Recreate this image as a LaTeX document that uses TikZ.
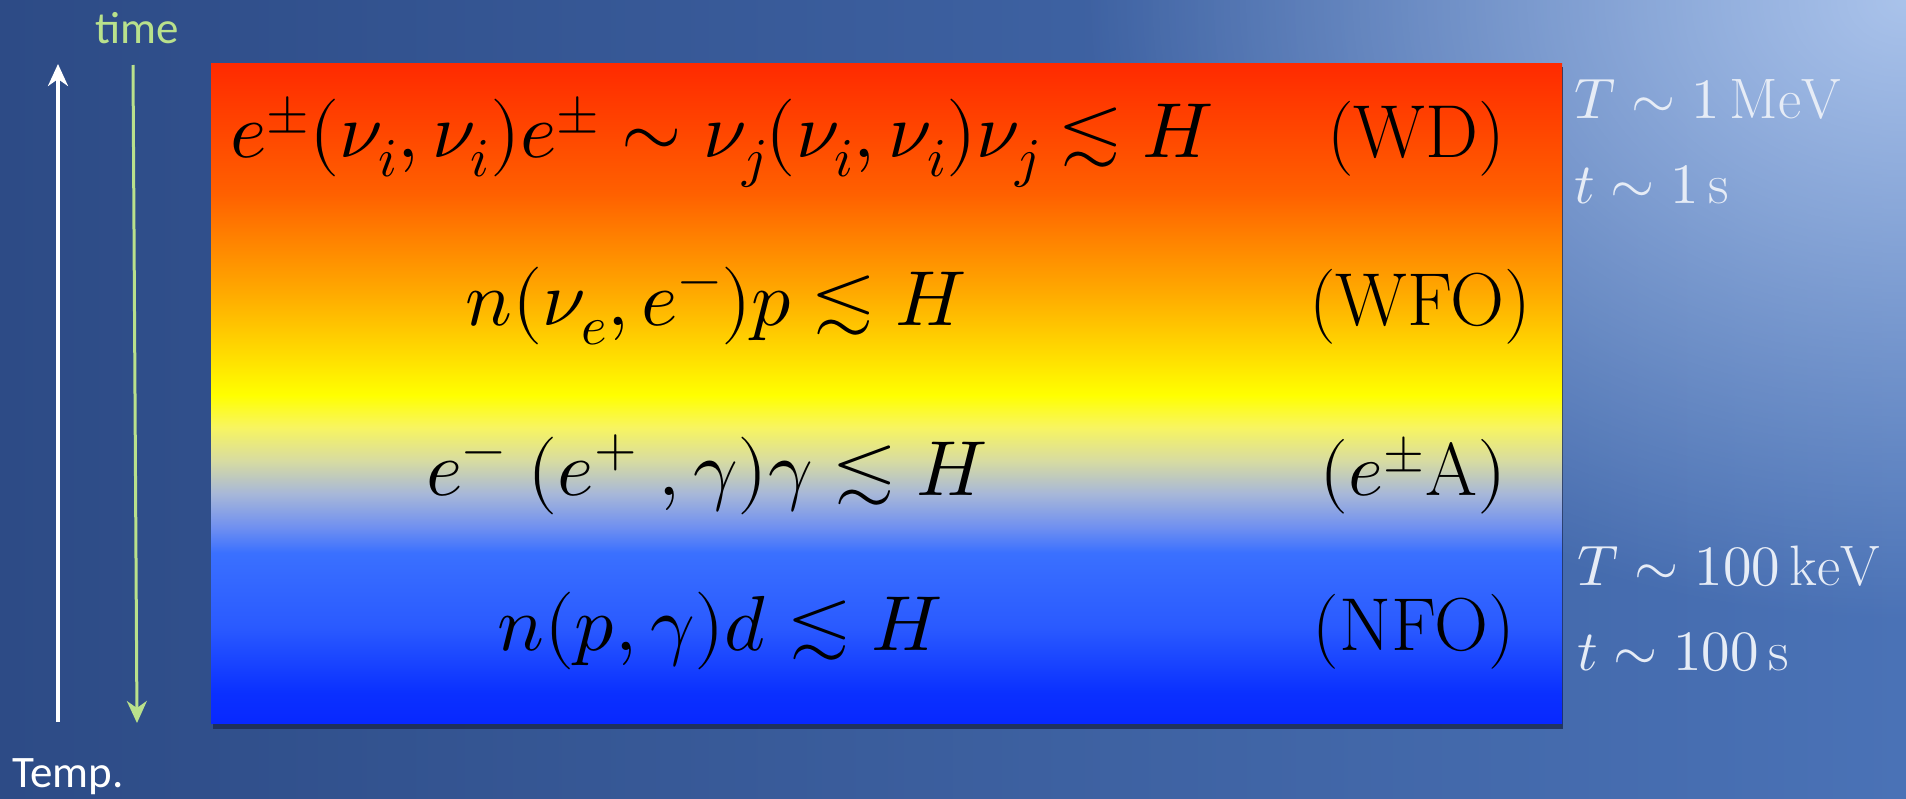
\documentclass[tikz,border=0pt]{standalone}
\usepackage{fontspec}
\usepackage{unicode-math}
\setmathfont{Latin Modern Math}
\newfontfamily\carlito{Carlito}
\usetikzlibrary{arrows.meta,fadings}
\tikzfading[name=glowfade, inner color=transparent!0, outer color=transparent!100]
\definecolor{bgL}{RGB}{45,75,134}
\definecolor{bgR}{RGB}{74,114,182}
\definecolor{glow}{RGB}{170,195,235}
\definecolor{tgreen}{RGB}{185,225,140}
\definecolor{lab}{RGB}{230,236,246}
\definecolor{shadowc}{RGB}{28,44,84}
\definecolor{g00}{RGB}{255,42,0}
\definecolor{g01}{RGB}{255,96,0}
\definecolor{g02}{RGB}{255,170,0}
\definecolor{g03}{RGB}{255,225,0}
\definecolor{g04}{RGB}{255,255,0}
\definecolor{g05}{RGB}{248,245,96}
\definecolor{g06}{RGB}{216,220,160}
\definecolor{g07}{RGB}{168,184,216}
\definecolor{g08}{RGB}{112,144,240}
\definecolor{g09}{RGB}{58,112,255}
\definecolor{g10}{RGB}{42,90,255}
\definecolor{g11}{RGB}{10,48,255}
\definecolor{g12}{RGB}{8,40,255}
\pgfdeclareverticalshading{boxgrad}{100bp}{%
color(0bp)=(g12); color(25bp)=(g12); color(27.27bp)=(g11); color(32.27bp)=(g10);
color(37.88bp)=(g09); color(39.85bp)=(g08); color(42.42bp)=(g07); color(44.92bp)=(g06);
color(47.42bp)=(g05); color(49.85bp)=(g04); color(52.5bp)=(g03); color(57.58bp)=(g02);
color(65.15bp)=(g01); color(75bp)=(g00); color(100bp)=(g00)}
\tikzset{
  formula/.style={anchor=base, inner sep=0pt, text=black, font=\fontsize{78}{84}\selectfont},
  tag/.style={anchor=base, inner sep=0pt, text=black, font=\fontsize{75}{80}\selectfont},
  rlab/.style={anchor=base west, inner sep=0pt, text=lab, font=\fontsize{57}{62}\selectfont},
  side/.style={inner sep=0pt, font=\carlito\fontsize{45}{50}\selectfont},
  warrow/.style={draw=white, line width=3.5pt, -{Stealth[length=22pt,width=20pt,inset=7pt]}},
  garrow/.style={draw=tgreen, line width=3pt, -{Stealth[length=22pt,width=20pt,inset=7pt]}},
}
\begin{document}
\begin{tikzpicture}[x=1pt,y=-1pt]
\useasboundingbox (0,0) rectangle (1906,798);
\shade[left color=bgL,right color=bgR] (0,0) rectangle (1906,798);
\begin{scope}
  \clip (0,0) rectangle (1906,798);
  \fill[glow,path fading=glowfade] (1906,0) ellipse [x radius=820pt, y radius=620pt];
\end{scope}
% box
\fill[shadowc,opacity=0.85] (213,67) rectangle (1563,729);
\shade[shading=boxgrad] (211,63) rectangle (1562,723);
% arrows
\coordinate (wb) at (58,722);
\coordinate (wt) at (58,64);
\coordinate (gt) at (133,65);
\coordinate (gb) at (137,723);
\draw[warrow] (wb) -- (wt);
\draw[garrow] (gt) -- (gb);
\node[side, text=tgreen, anchor=base] (time) at (137,43) {time};
\node[side, text=white, anchor=base west] (temp) at (12,787) {Temp.};
% formulas
\node[formula] (r1) at (722,157) {$e^{\pm}(\nu_i,\nu_i)e^{\pm}\sim\nu_j(\nu_i,\nu_i)\nu_j\lesssim H$};
\node[formula] (r2) at (716,325) {$n(\nu_e,e^{-})p\lesssim H$};
\node[formula] (r3) at (707,495) {$e^{-}\;(e^{+}\;,\gamma)\gamma\lesssim H$};
\node[formula] (r4) at (720,650) {$n(p,\gamma)d\lesssim H$};
\node[tag] (t1) at (1416,157) {(WD)};
\node[tag] (t2) at (1420,325) {(WFO)};
\node[tag] (t3) at (1413,495) {$(e^{\pm}\mathrm{A})$};
\node[tag] (t4) at (1414,650) {(NFO)};
% right labels
\node[rlab] (l1) at (1574,118) {$T\sim 1\,\mathrm{MeV}$};
\node[rlab] (l2) at (1574,203) {$t\sim 1\,\mathrm{s}$};
\node[rlab] (l3) at (1577,585) {$T\sim 100\,\mathrm{keV}$};
\node[rlab] (l4) at (1577,670) {$t\sim 100\,\mathrm{s}$};
\end{tikzpicture}
\end{document}
